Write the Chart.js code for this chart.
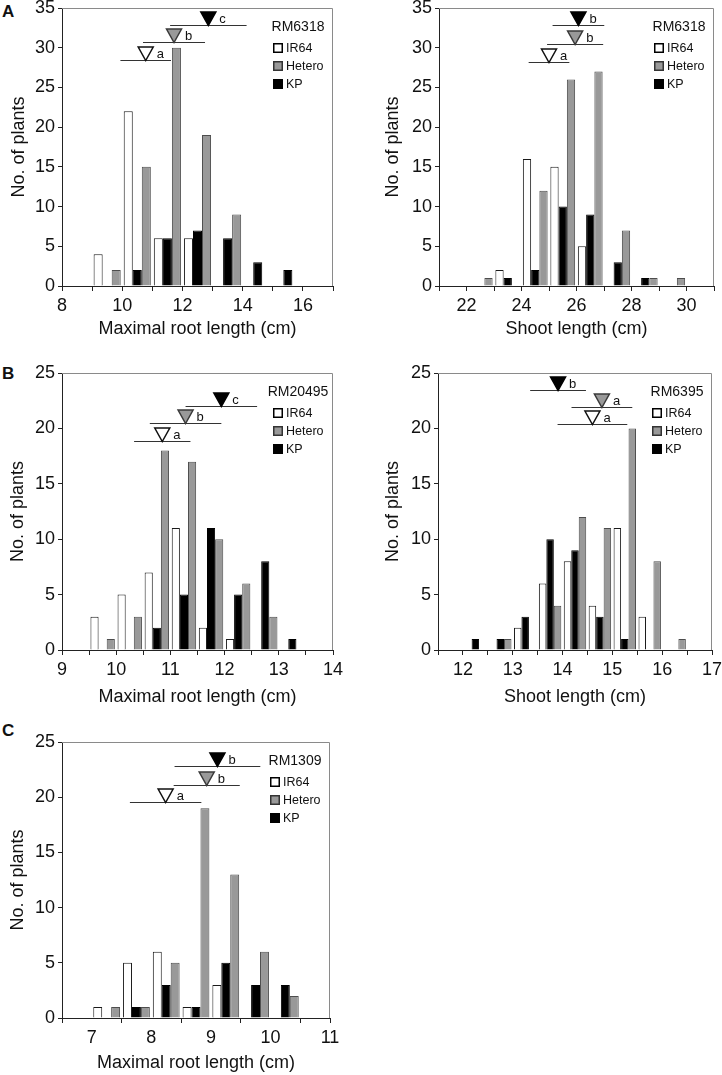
<!DOCTYPE html>
<html>
<head>
<meta charset="utf-8">
<script src="https://cdn.jsdelivr.net/npm/chart.js@4.4.1/dist/chart.umd.min.js"></script>
<style>
  body { margin: 0; background: #fff; width: 722px; height: 1075px; position: relative; overflow: hidden;
         font-family: 'Liberation Sans', Arial, sans-serif; }
  canvas { position: absolute; }
  .tag { position: absolute; font-weight: bold; font-size: 17px; line-height: 17px; color: #111; }
</style>
</head>
<body>
<div class="tag" style="left:2px;top:3px">A</div>
<div class="tag" style="left:2px;top:365px">B</div>
<div class="tag" style="left:2px;top:722px">C</div>

<script>
// ---- A: RM6318, maximal root length (1 cm bins, lower bounds) ----
const rootBinsA = [8, 9, 10, 11, 12, 13, 14, 15, 16];
const rootIR64A = [0, 4, 22, 6, 6, 0, 0, 0, 0];
const rootKPA = [0, 0, 2, 6, 7, 6, 3, 2, 0];
const rootHeteroA = [0, 2, 15, 30, 19, 9, 0, 0, 0];
// mean +- SD markers, order IR64, Hetero, KP
const rootMeanA = [10.78, 11.72, 12.86];
const rootSdA = [0.84, 1.03, 1.27];
const rootLevelA = [28.5, 30.7, 32.8];
const rootLetterA = ['a', 'b', 'c'];
const rootTickLabelsA = [8, 10, 12, 14, 16];

// ---- A: RM6318, shoot length ----
const shootBinsA = [21, 22, 23, 24, 25, 26, 27, 28, 29, 30];
const shootIR64A = [0, 0, 2, 16, 15, 5, 0, 0, 0, 0];
const shootKPA = [0, 0, 1, 2, 10, 9, 3, 1, 0, 0];
const shootHeteroA = [0, 1, 0, 12, 26, 27, 7, 1, 1, 0];
const shootMeanA = [25.0, 25.95, 26.07];
const shootSdA = [0.74, 1.02, 0.94];
const shootLevelA = [28.2, 30.5, 32.8];
const shootLetterA = ['a', 'b', 'b'];
const shootTickLabelsA = [22, 24, 26, 28, 30];

// ---- B: RM20495, maximal root length (0.5 cm bins) ----
const rootBinsB = [9, 9.5, 10, 10.5, 11, 11.5, 12, 12.5, 13, 13.5];
const rootIR64B = [0, 3, 5, 7, 11, 2, 1, 0, 0, 0];
const rootKPB = [0, 0, 0, 2, 5, 11, 5, 8, 1, 0];
const rootHeteroB = [0, 1, 3, 18, 17, 10, 6, 3, 0, 0];
const rootMeanB = [10.85, 11.28, 11.94];
const rootSdB = [0.52, 0.66, 0.66];
const rootLevelB = [18.9, 20.5, 22.0];
const rootLetterB = ['a', 'b', 'c'];
const rootTickLabelsB = [9, 10, 11, 12, 13, 14];

// ---- B: RM6395, shoot length ----
const shootBinsB = [11.5, 12, 12.5, 13, 13.5, 14, 14.5, 15, 15.5, 16, 16.5];
const shootIR64B = [0, 0, 0, 2, 6, 8, 4, 11, 3, 0, 0];
const shootKPB = [0, 1, 1, 3, 10, 9, 3, 1, 0, 0, 0];
const shootHeteroB = [0, 0, 1, 0, 4, 12, 11, 20, 8, 1, 0];
const shootMeanB = [14.6, 14.79, 13.91];
const shootSdB = [0.7, 0.61, 0.56];
const shootLevelB = [20.4, 21.9, 23.5];
const shootLetterB = ['a', 'a', 'b'];
const shootTickLabelsB = [12, 13, 14, 15, 16, 17];

// ---- C: RM1309, maximal root length ----
const rootBinsC = [6.5, 7, 7.5, 8, 8.5, 9, 9.5, 10, 10.5];
const rootIR64C = [0, 1, 5, 6, 1, 3, 0, 0, 0];
const rootKPC = [0, 0, 1, 3, 1, 5, 3, 3, 0];
const rootHeteroC = [0, 1, 1, 5, 19, 13, 6, 2, 0];
const rootMeanC = [8.24, 8.93, 9.11];
const rootSdC = [0.6, 0.555, 0.72];
const rootLevelC = [19.6, 21.1, 22.8];
const rootLetterC = ['a', 'b', 'b'];
const rootTickLabelsC = [7, 8, 9, 10, 11];
const rootTickMarksC = [6.5, 7.5, 8.5, 9.5, 10.5, 11];

const legendNames = ['IR64', 'Hetero', 'KP'];
const FONT = "'Liberation Sans', Arial, sans-serif";
const fills = ['#ffffff', '#999999', '#000000'];
const edges = ['#111111', '#3a3a3a', '#000000'];

Chart.defaults.font.family = FONT;
Chart.defaults.color = '#111';

// box = canvas [left, top, width, height]; area = chart area inside canvas [left, top, right, bottom]
const panels = [
  { box: [0, 0, 361, 345], area: [62, 8, 333, 286], xMin: 8, xMax: 17, step: 1, yMax: 35, binWidth: 1,
    bins: rootBinsA, ir64: rootIR64A, kp: rootKPA, hetero: rootHeteroA,
    mean: rootMeanA, sd: rootSdA, level: rootLevelA, letter: rootLetterA,
    labels: rootTickLabelsA, marks: null, marker: 'RM6318', xTitle: 'Maximal root length (cm)', yPad: 8, xPad: 5 },
  { box: [361, 0, 361, 345], area: [78, 8, 353, 286], xMin: 21, xMax: 31, step: 1, yMax: 35, binWidth: 1,
    bins: shootBinsA, ir64: shootIR64A, kp: shootKPA, hetero: shootHeteroA,
    mean: shootMeanA, sd: shootSdA, level: shootLevelA, letter: shootLetterA,
    labels: shootTickLabelsA, marks: null, marker: 'RM6318', xTitle: 'Shoot length (cm)', yPad: 21, xPad: 5 },
  { box: [0, 345, 361, 370], area: [62, 28, 333, 305], xMin: 9, xMax: 14, step: 0.5, yMax: 25, binWidth: 0.5,
    bins: rootBinsB, ir64: rootIR64B, kp: rootKPB, hetero: rootHeteroB,
    mean: rootMeanB, sd: rootSdB, level: rootLevelB, letter: rootLetterB,
    labels: rootTickLabelsB, marks: null, marker: 'RM20495', xTitle: 'Maximal root length (cm)', yPad: 7, xPad: 7 },
  { box: [361, 345, 361, 370], area: [77, 28, 351, 305], xMin: 11.5, xMax: 17, step: 0.5, yMax: 25, binWidth: 0.5,
    bins: shootBinsB, ir64: shootIR64B, kp: shootKPB, hetero: shootHeteroB,
    mean: shootMeanB, sd: shootSdB, level: shootLevelB, letter: shootLetterB,
    labels: shootTickLabelsB, marks: null, marker: 'RM6395', xTitle: 'Shoot length (cm)', yPad: 21, xPad: 7 },
  { box: [0, 715, 361, 360], area: [62, 27, 330, 303], xMin: 6.5, xMax: 11, step: 0.5, yMax: 25, binWidth: 0.5,
    bins: rootBinsC, ir64: rootIR64C, kp: rootKPC, hetero: rootHeteroC,
    mean: rootMeanC, sd: rootSdC, level: rootLevelC, letter: rootLetterC,
    labels: rootTickLabelsC, marks: rootTickMarksC, marker: 'RM1309', xTitle: 'Maximal root length (cm)', yPad: 7, xPad: 1 }
];

function near(list, v) {
  return list.some(l => Math.abs(l - v) < 1e-6);
}

function barSet(label, p, values, fill, edge) {
  return {
    label: label,
    data: p.bins.map((b, i) => ({ x: b + p.binWidth / 2, y: values[i] })),
    backgroundColor: fill,
    borderColor: edge,
    borderWidth: 1,
    categoryPercentage: 0.9,
    barPercentage: 1
  };
}

// frame, mean +- SD triangles and the inside legend
function makeDecor(p, n) {
  return {
    id: 'decor' + n,
    afterDatasetsDraw(chart) {
      const { ctx, chartArea: a } = chart;
      const x = chart.scales.x, y = chart.scales.y;
      ctx.save();
      ctx.strokeStyle = '#8a8a8a';
      ctx.lineWidth = 1;
      ctx.beginPath();
      ctx.moveTo(a.left, Math.round(a.top) + 0.5);
      ctx.lineTo(Math.round(a.right) - 0.5, Math.round(a.top) + 0.5);
      ctx.lineTo(Math.round(a.right) - 0.5, a.bottom);
      ctx.stroke();

      p.mean.forEach((m, i) => {
        const yp = Math.round(y.getPixelForValue(p.level[i])) + 0.5;
        const xm = x.getPixelForValue(m);
        ctx.strokeStyle = '#333';
        ctx.lineWidth = 1;
        ctx.beginPath();
        ctx.moveTo(x.getPixelForValue(m - p.sd[i]), yp);
        ctx.lineTo(x.getPixelForValue(m + p.sd[i]), yp);
        ctx.stroke();
        ctx.beginPath();
        ctx.moveTo(xm - 7.5, yp - 13.5);
        ctx.lineTo(xm + 7.5, yp - 13.5);
        ctx.lineTo(xm, yp);
        ctx.closePath();
        ctx.fillStyle = fills[i];
        ctx.fill();
        ctx.lineWidth = 1.5;
        ctx.strokeStyle = edges[i];
        ctx.stroke();
        ctx.fillStyle = '#111';
        ctx.font = '13px ' + FONT;
        ctx.textAlign = 'left';
        ctx.textBaseline = 'alphabetic';
        ctx.fillText(p.letter[i], xm + 11, yp - 3);
      });

      const lx = Math.round(a.right) - 60;
      ctx.font = '14px ' + FONT;
      ctx.textAlign = 'center';
      ctx.textBaseline = 'middle';
      ctx.fillStyle = '#111';
      ctx.fillText(p.marker, a.right - 35, a.top + 19);
      ctx.font = '12.5px ' + FONT;
      legendNames.forEach((name, i) => {
        const cy = Math.round(a.top + 40 + i * 18);
        ctx.fillStyle = fills[i];
        ctx.fillRect(lx, cy - 5, 10, 10);
        ctx.lineWidth = 1.5;
        ctx.strokeStyle = i === 1 ? '#333' : '#000';
        ctx.strokeRect(lx + 0.75, cy - 4.25, 8.5, 8.5);
        ctx.fillStyle = '#111';
        ctx.textAlign = 'left';
        ctx.fillText(name, lx + 13, cy + 0.5);
      });
      ctx.restore();
    }
  };
}

panels.forEach((p, n) => {
  const canvas = document.createElement('canvas');
  canvas.width = p.box[2];
  canvas.height = p.box[3];
  canvas.style.left = p.box[0] + 'px';
  canvas.style.top = p.box[1] + 'px';
  canvas.style.width = p.box[2] + 'px';
  canvas.style.height = p.box[3] + 'px';
  document.body.appendChild(canvas);

  new Chart(canvas, {
    type: 'bar',
    data: {
      datasets: [
        barSet('IR64', p, p.ir64, fills[0], '#1a1a1a'),
        barSet('KP', p, p.kp, fills[2], '#000000'),
        barSet('Hetero', p, p.hetero, fills[1], '#4d4d4d')
      ]
    },
    options: {
      responsive: false,
      animation: false,
      devicePixelRatio: 1,
      layout: { padding: { left: 0, top: p.area[1], right: p.box[2] - p.area[2], bottom: 0 } },
      plugins: { legend: { display: false }, tooltip: { enabled: false } },
      scales: {
        x: {
          type: 'linear',
          min: p.xMin,
          max: p.xMax,
          offset: false,
          grid: {
            offset: false,
            drawOnChartArea: false,
            tickLength: 5,
            tickColor: ctx => (!p.marks || (ctx.tick && near(p.marks, ctx.tick.value))) ? '#222' : 'rgba(0,0,0,0)'
          },
          border: { color: '#222' },
          ticks: {
            stepSize: p.step,
            autoSkip: false,
            maxRotation: 0,
            padding: 4,
            font: { size: 18 },
            callback: v => near(p.labels, v) ? String(v) : ''
          },
          title: { display: true, text: p.xTitle, font: { size: 18 }, padding: { top: 0, bottom: p.xPad } },
          afterFit: s => { s.height = p.box[3] - p.area[3]; s.paddingLeft = 0; s.paddingRight = 0; }
        },
        y: {
          min: 0,
          max: p.yMax,
          ticks: { stepSize: 5, padding: 3, font: { size: 18 } },
          grid: { drawOnChartArea: false, tickLength: 4, tickColor: '#222' },
          border: { color: '#222' },
          title: { display: true, text: 'No. of plants', font: { size: 18 }, padding: { top: p.yPad, bottom: 0 } },
          afterFit: s => { s.width = p.area[0]; s.paddingTop = 0; s.paddingBottom = 0; }
        }
      }
    },
    plugins: [makeDecor(p, n)]
  });
});
</script>
</body>
</html>
